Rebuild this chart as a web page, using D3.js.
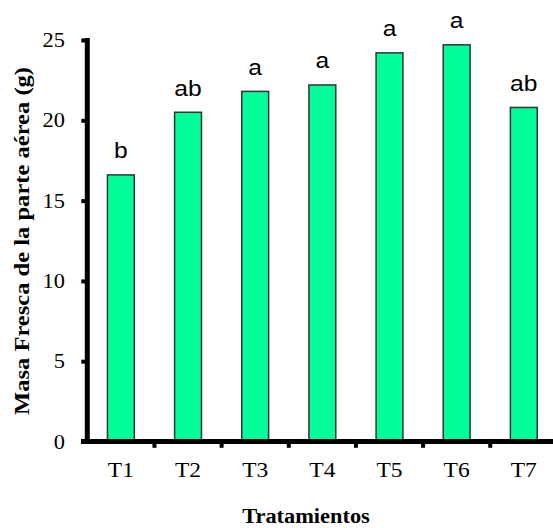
<!DOCTYPE html>
<html>
<head>
<meta charset="utf-8">
<script src="https://cdn.jsdelivr.net/npm/d3@7"></script>
<style>
  html, body { margin: 0; padding: 0; background: #fff; }
  svg { display: block; }
</style>
</head>
<body>
<div id="chart"></div>
<script>
const categories = ["T1", "T2", "T3", "T4", "T5", "T6", "T7"];
const values = [16.6, 20.5, 21.8, 22.2, 24.2, 24.7, 20.8];
const letters = ["b", "ab", "a", "a", "a", "a", "ab"];
const yTicks = [0, 5, 10, 15, 20, 25];

const width = 553;
const height = 528;
const stretch = 1.12; // text in the picture is a bit wide

const svg = d3.select("#chart").append("svg")
    .attr("width", width)
    .attr("height", height);

const x = d3.scaleBand()
    .domain(categories)
    .range([87.3, 557.4])
    .paddingInner(0.6)
    .paddingOuter(0.3);

const y = d3.scaleLinear()
    .domain([0, 25])
    .range([441.5, 40]);

// bars
svg.append("g")
    .selectAll("rect")
    .data(categories)
    .join("rect")
    .attr("x", d => x(d))
    .attr("y", (d, i) => y(values[i]))
    .attr("width", x.bandwidth())
    .attr("height", (d, i) => y(0) - y(values[i]))
    .attr("fill", "#00ff99")
    .attr("stroke", "#333")
    .attr("stroke-width", 1.5);

// significance letters
svg.append("g")
    .selectAll("text")
    .data(categories)
    .join("text")
    .attr("transform", (d, i) => `translate(${x(d) + x.bandwidth() / 2}, ${y(values[i]) - 16.5}) scale(${stretch}, 1)`)
    .attr("text-anchor", "middle")
    .style("font", "22px 'Liberation Sans', Arial, sans-serif")
    .attr("fill", "#000")
    .text((d, i) => letters[i]);

// y axis
const yAxis = svg.append("g")
    .attr("transform", "translate(87.3, 0)")
    .call(d3.axisLeft(y).tickValues(yTicks).tickSize(6).tickSizeOuter(0).tickFormat(""));
yAxis.select(".domain")
    .attr("stroke", "#000")
    .attr("stroke-width", 5)
    .attr("d", `M0,${y(25) - 2}V${y(0) + 2.5}`);
yAxis.selectAll(".tick line").attr("stroke", "#000").attr("stroke-width", 4);

svg.append("g")
    .selectAll("text")
    .data(yTicks)
    .join("text")
    .attr("transform", d => `translate(65, ${y(d) + 7}) scale(${stretch}, 1)`)
    .attr("text-anchor", "end")
    .style("font", "20px 'Liberation Serif', 'Times New Roman', serif")
    .attr("fill", "#000")
    .text(d => d);

// x axis
const step = x.step();
const bounds = categories.slice(1).map(d => x(d) - step * x.paddingInner() / 2);

svg.append("line")
    .attr("x1", 81)
    .attr("x2", width)
    .attr("y1", y(0))
    .attr("y2", y(0))
    .attr("stroke", "#000")
    .attr("stroke-width", 5);

svg.append("g")
    .selectAll("line")
    .data(bounds)
    .join("line")
    .attr("x1", d => d)
    .attr("x2", d => d)
    .attr("y1", y(0))
    .attr("y2", y(0) + 6.3)
    .attr("stroke", "#000")
    .attr("stroke-width", 4);

svg.append("g")
    .selectAll("text")
    .data(categories)
    .join("text")
    .attr("transform", d => `translate(${x(d) + x.bandwidth() / 2}, 476.5) scale(${stretch}, 1)`)
    .attr("text-anchor", "middle")
    .style("font", "21px 'Liberation Serif', 'Times New Roman', serif")
    .attr("fill", "#000")
    .text(d => d);

// axis titles
svg.append("text")
    .attr("transform", `translate(306, 523) scale(${stretch}, 1)`)
    .attr("text-anchor", "middle")
    .style("font", "bold 20px 'Liberation Serif', 'Times New Roman', serif")
    .attr("fill", "#000")
    .text("Tratamientos");

svg.append("text")
    .attr("transform", "translate(28.5, 241) rotate(-90)")
    .attr("text-anchor", "middle")
    .attr("textLength", 348)
    .attr("lengthAdjust", "spacingAndGlyphs")
    .style("font", "bold 22px 'Liberation Serif', 'Times New Roman', serif")
    .attr("fill", "#000")
    .text("Masa Fresca de la parte aérea (g)");
</script>
</body>
</html>
